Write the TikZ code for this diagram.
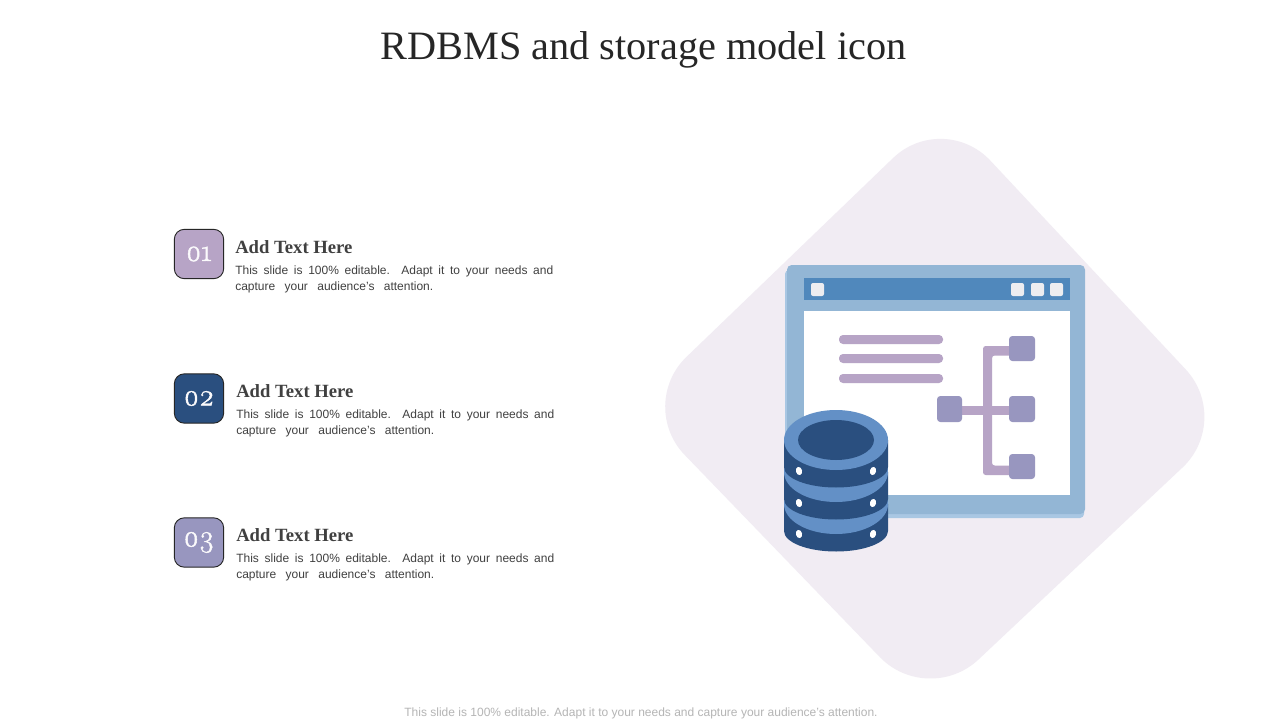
\documentclass[tikz,border=0pt]{standalone}
\usepackage{fontspec}
\setmainfont{Liberation Serif}
\setsansfont{Liberation Sans}
\newfontfamily\numfont[Numbers=OldStyle,FakeBold=1.4,FakeStretch=0.95]{Latin Modern Roman}
\definecolor{lilac}{HTML}{B7A4C6}
\definecolor{navy}{HTML}{2A4F7F}
\definecolor{slate}{HTML}{9896BF}
\definecolor{pale}{HTML}{F1ECF3}
\definecolor{frame}{HTML}{93B6D5}
\definecolor{frameshadow}{HTML}{A9C7E3}
\definecolor{titlebar}{HTML}{5088BC}
\definecolor{ringblue}{HTML}{6390C6}
\definecolor{btn}{HTML}{EDEDF0}
\definecolor{titleink}{HTML}{262626}
\definecolor{headink}{HTML}{404040}
\definecolor{bodyink}{HTML}{404040}
\definecolor{footink}{HTML}{B5B5B5}
\tikzset{
  x=0.75pt,y=-0.75pt,
  badge/.style={draw=black!85,line width=0.7pt,rounded corners=7.5pt,minimum size=37pt,inner sep=0pt,text=white!95!lilac,font=\numfont\fontsize{23}{24}\selectfont},
  headtext/.style={anchor=west,inner sep=0pt,text=headink,font=\rmfamily\bfseries\fontsize{14}{16}\selectfont},
  bodytext/.style={anchor=north west,inner sep=0pt,text=bodyink,align=left,font=\sffamily\fontsize{9}{12}\selectfont},
  winbtn/.style={fill=btn,rounded corners=1.5pt},
  listbar/.style={fill=lilac,rounded corners=3pt},
  treebar/.style={fill=lilac},
  treebox/.style={fill=slate,rounded corners=2.5pt},
  hole/.style={fill=white},
}
\newcommand{\bodylines}{\makebox[238.5pt][s]{This slide is 100\% editable. Adapt it to your needs and}\\\makebox[148.5pt][s]{capture your audience's attention.}}
\newcommand{\disk}[1]{%
  \fill[navy] (784,#1) -- (784,#1+27) arc[start angle=180,end angle=360,x radius=52,y radius=-20.5] -- (888,#1) -- cycle;
  \fill[ringblue] (836,#1) ellipse[x radius=52,y radius=30];
}
\newcommand{\holes}[1]{%
  \fill[hole,rotate around={15:(799,#1)}] (799,#1) ellipse[x radius=3.1,y radius=4.2];
  \fill[hole,rotate around={-15:(873,#1)}] (873,#1) ellipse[x radius=3.1,y radius=4.2];
}
\begin{document}
\begin{tikzpicture}
\path[use as bounding box,fill=white] (0,0) rectangle (1280,720);
% backdrop
\fill[pale,rounded corners=52pt] (943,110) -- (1233,420) -- (928,707) -- (636.5,405) -- cycle;
% window
\fill[frameshadow,rounded corners=3pt] (785,270) rectangle (1084,518);
\fill[frame,rounded corners=3.5pt] (787,265) rectangle (1085,514);
\fill[titlebar] (804,278) rectangle (1070,300);
\fill[white] (804,311) rectangle (1070,495);
\fill[winbtn] (811,283) rectangle (824,296);
\fill[winbtn] (1011,283) rectangle (1024,296);
\fill[winbtn] (1031,283) rectangle (1044,296);
\fill[winbtn] (1050,283) rectangle (1063,296);
\fill[listbar] (839,335) rectangle (943,344);
\fill[listbar] (839,354) rectangle (943,363);
\fill[listbar] (839,374) rectangle (943,383);
% tree
\fill[treebar,rounded corners=2pt] (1015,346) -- (983,346) -- (983,475) -- (1015,475) -- (1015,465.5) -- (992,465.5) -- (992,355.5) -- (1015,355.5) -- cycle;
\fill[treebar] (955,406) rectangle (1015,415);
\fill[treebox] (1009,336) rectangle (1035,361);
\fill[treebox] (1009,396) rectangle (1035,422);
\fill[treebox] (1009,454) rectangle (1035,479);
\fill[treebox] (937,396) rectangle (962,422);
% database
\disk{504}
\disk{472}
\disk{440}
\fill[navy] (836,440) ellipse[x radius=38,y radius=20];
\holes{471}
\holes{503}
\holes{534}
% title and footer
\node[inner sep=0pt,text=titleink,font=\rmfamily\fontsize{30.2}{33}\selectfont] (title) at (643.5,50) {RDBMS and storage model icon};
\node[inner sep=0pt,text=footink,font=\sffamily\fontsize{9}{11}\selectfont] (foot) at (641,713.5) {This slide is 100\% editable. Adapt it to your needs and capture your audience's attention.};
% items
\node[badge,fill=lilac] (b1) at (199,254) {01};
\node[badge,fill=navy] (b2) at (199,398.5) {02};
\node[badge,fill=slate] (b3) at (199,542.5) {03};
\node[headtext] (h1) at (235,247.5) {Add Text Here};
\node[headtext] (h2) at (236,391.5) {Add Text Here};
\node[headtext] (h3) at (236,535.5) {Add Text Here};
\node[bodytext] (t1) at (235,266) {\bodylines};
\node[bodytext] (t2) at (236,410) {\bodylines};
\node[bodytext] (t3) at (236,554) {\bodylines};
\end{tikzpicture}
\end{document}
